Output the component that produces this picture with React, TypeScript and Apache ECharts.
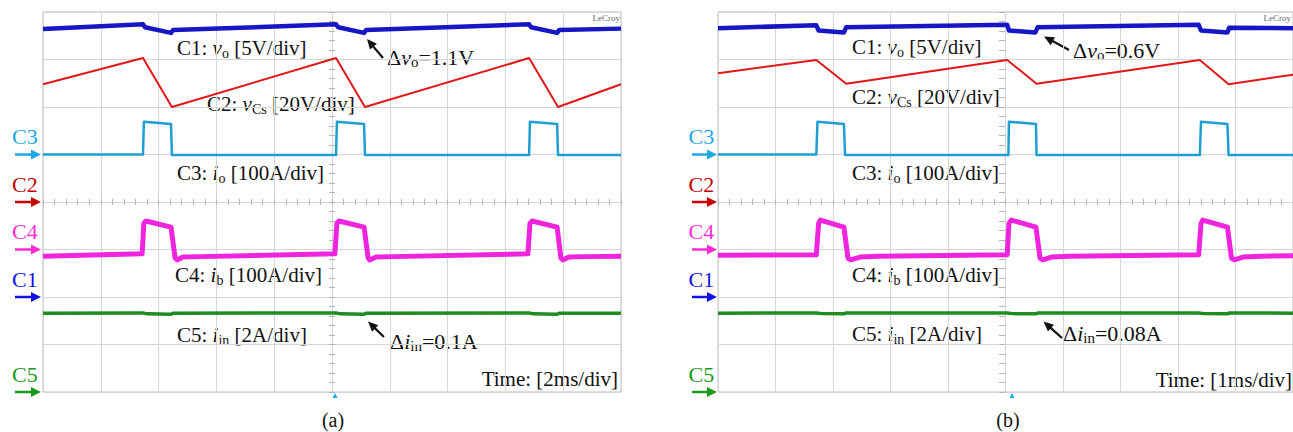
import React, { useEffect, useRef } from 'react';
import * as echarts from 'echarts';

// ---------- DATA (time in ms, level in screen divisions: 0 = bottom edge, 8 = top edge) ----------
// Panel (a): 2 ms/div
const voA = [[0, 7.64], [3.46, 7.74], [3.53, 7.68], [4.43, 7.56], [4.5, 7.62], [10.14, 7.74], [10.21, 7.68], [11.11, 7.56], [11.18, 7.62], [16.82, 7.74], [16.89, 7.68], [17.79, 7.56], [17.86, 7.62], [20, 7.65]];
const vCsA = [[0, 6.48], [3.46, 7.03], [4.46, 6.0], [10.14, 7.03], [11.14, 6.0], [16.82, 7.03], [17.82, 6.0], [20, 6.48]];
const ioA = [[0, 5.0], [3.46, 5.0], [3.49, 5.69], [4.43, 5.64], [4.46, 4.99], [10.14, 4.99], [10.17, 5.69], [11.11, 5.64], [11.14, 4.99], [16.82, 4.99], [16.85, 5.69], [17.79, 5.64], [17.82, 4.99], [20, 4.99]];
const ibA = [[0, 2.86], [3.43, 2.91], [3.49, 3.55], [3.56, 3.6], [4.43, 3.47], [4.57, 2.82], [4.64, 2.78], [4.84, 2.84], [5.43, 2.85], [10.1, 2.91], [10.17, 3.55], [10.24, 3.6], [11.11, 3.47], [11.25, 2.82], [11.31, 2.78], [11.52, 2.84], [12.11, 2.85], [16.78, 2.91], [16.85, 3.55], [16.92, 3.6], [17.79, 3.47], [17.92, 2.82], [17.99, 2.78], [18.2, 2.84], [18.79, 2.85], [20, 2.86]];
const iinA = [[0, 1.66], [3.46, 1.665], [3.6, 1.645], [4.43, 1.635], [4.5, 1.66], [10.14, 1.665], [10.28, 1.645], [11.11, 1.635], [11.18, 1.66], [16.82, 1.665], [16.96, 1.645], [17.79, 1.635], [17.86, 1.66], [20, 1.66]];

// Panel (b): 1 ms/div
const voB = [[0, 7.66], [1.71, 7.72], [1.75, 7.61], [2.19, 7.57], [2.23, 7.68], [5.03, 7.73], [5.06, 7.61], [5.52, 7.57], [5.56, 7.68], [8.36, 7.73], [8.4, 7.61], [8.86, 7.57], [8.89, 7.67], [10, 7.66]];
const vCsB = [[0, 6.71], [1.71, 6.99], [2.23, 6.49], [5.03, 6.99], [5.54, 6.49], [8.38, 6.99], [8.88, 6.48], [10, 6.68]];
const ioB = [[0, 5.0], [1.71, 5.0], [1.73, 5.69], [2.19, 5.64], [2.21, 4.99], [5.05, 4.99], [5.06, 5.69], [5.53, 5.64], [5.54, 4.99], [8.38, 4.99], [8.4, 5.69], [8.86, 5.64], [8.88, 4.99], [10, 4.99]];
const ibB = [[0, 2.88], [1.71, 2.89], [1.75, 3.55], [1.78, 3.62], [2.19, 3.47], [2.26, 2.82], [2.31, 2.78], [2.47, 2.84], [2.78, 2.86], [5.03, 2.89], [5.06, 3.55], [5.1, 3.62], [5.53, 3.47], [5.6, 2.82], [5.65, 2.78], [5.8, 2.84], [6.11, 2.86], [8.36, 2.89], [8.4, 3.55], [8.43, 3.62], [8.86, 3.47], [8.93, 2.82], [8.98, 2.78], [9.13, 2.84], [9.44, 2.86], [10, 2.87]];
const iinB = [[0, 1.66], [1.71, 1.665], [1.8, 1.65], [2.19, 1.645], [2.23, 1.665], [5.03, 1.665], [5.12, 1.65], [5.53, 1.645], [5.56, 1.665], [8.36, 1.665], [8.45, 1.65], [8.86, 1.645], [8.89, 1.665], [10, 1.66]];

const timeMaxA = 20;
const timeStepA = 2;
const timeMaxB = 10;
const timeStepB = 1;
const divisions = 8;

const traceNames = ['C1: vo', 'C2: vCs', 'C3: io', 'C4: ib', 'C5: iin'];
const channelNames = ['C3', 'C2', 'C4', 'C1', 'C5'];
const channelLevels = [5, 4, 3, 2, 0];

// ---------- STYLE ----------
const traceColors = ['#1616c4', '#e01818', '#1e9fd2', '#ee24de', '#1f8c1f'];
const traceWidths = [4.5, 2, 2.5, 5, 3.5];
const channelColors = ['#1fa8e6', '#c40000', '#ff2bd6', '#1212e8', '#1a9a1a'];
const FONT = '"Liberation Serif", "Times New Roman", serif';

const GRID_A = { left: 43, top: 12, width: 578, height: 380 };
const GRID_B = { left: 718, top: 12, width: 582, height: 380 };

function lvlY(g: any, level: number) {
  return g.top + ((divisions - level) / divisions) * g.height;
}

function arrow(x0: number, y0: number, x1: number, y1: number, color: string, lw: number, L: number, Wd: number) {
  const dx = x1 - x0, dy = y1 - y0;
  const len = Math.sqrt(dx * dx + dy * dy);
  const ux = dx / len, uy = dy / len;
  const px = -uy, py = ux;
  const bx = x1 - ux * L, by = y1 - uy * L;
  return [
    { type: 'line', silent: true, shape: { x1: x0, y1: y0, x2: x1 - ux * L * 0.7, y2: y1 - uy * L * 0.7 }, style: { stroke: color, lineWidth: lw } },
    { type: 'polygon', silent: true, shape: { points: [[x1, y1], [bx + (px * Wd) / 2, by + (py * Wd) / 2], [bx - (px * Wd) / 2, by - (py * Wd) / 2]] }, style: { fill: color } },
  ];
}

const rich = (size: number) => ({
  n: { fontSize: size, fontFamily: FONT, fill: '#111', lineHeight: size + 3, verticalAlign: 'middle' },
  i: { fontSize: size, fontFamily: FONT, fontStyle: 'italic', fill: '#111', lineHeight: size + 3, verticalAlign: 'middle' },
  s: { fontSize: Math.round(size * 0.68), fontFamily: FONT, fill: '#111', lineHeight: Math.round(size * 0.68), verticalAlign: 'bottom' },
});

function richText(x: number, y: number, text: string, size = 21, align = 'left') {
  return {
    type: 'text', silent: true, x, y,
    style: { text, fontSize: size, fontFamily: FONT, fill: '#111', align, verticalAlign: 'middle', rich: rich(size) },
  };
}

function plainText(x: number, y: number, text: string, size = 21, align = 'left', fill = '#111') {
  return {
    type: 'text', silent: true, x, y,
    style: { text, fontSize: size, fontFamily: FONT, fill, align, verticalAlign: 'middle' },
  };
}

function channelMarks(g: any, labelX: number, ax0: number, ax1: number) {
  const out: any[] = [];
  channelNames.forEach((name, k) => {
    const y = lvlY(g, channelLevels[k]);
    out.push(plainText(labelX, y - 18, name, 22, 'left', channelColors[k]));
    out.push(...arrow(ax0, y, ax1, y, channelColors[k], 2.5, 10, 10));
  });
  return out;
}

function axesFor(gridIndex: number, g: any, tMax: number, tStep: number) {
  const tickColor = '#b4b4b4';
  const x = [
    {
      type: 'value', gridIndex, position: 'bottom', min: 0, max: tMax, interval: tStep,
      axisLine: { show: false, onZero: false }, axisTick: { show: false }, axisLabel: { show: false },
      splitLine: { show: true, lineStyle: { color: '#d6d6d6', width: 1 } },
    },
    {
      type: 'value', gridIndex, position: 'top', offset: -(g.height / 2 - 3), min: 0, max: tMax, interval: tStep,
      axisLine: { show: false, onZero: false }, axisLabel: { show: false }, splitLine: { show: false },
      axisTick: { show: true, inside: true, length: 6, lineStyle: { color: tickColor } },
      minorTick: { show: true, splitNumber: 5, length: 6, lineStyle: { color: tickColor } },
    },
  ];
  const y = [
    {
      type: 'value', gridIndex, position: 'left', min: 0, max: divisions, interval: 1,
      axisLine: { show: false, onZero: false }, axisTick: { show: false }, axisLabel: { show: false },
      splitLine: { show: true, lineStyle: { color: '#d6d6d6', width: 1 } },
    },
    {
      type: 'value', gridIndex, position: 'right', offset: -(g.width / 2 - 3), min: 0, max: divisions, interval: 1,
      axisLine: { show: false, onZero: false }, axisLabel: { show: false }, splitLine: { show: false },
      axisTick: { show: true, inside: true, length: 6, lineStyle: { color: tickColor } },
      minorTick: { show: true, splitNumber: 5, length: 6, lineStyle: { color: tickColor } },
    },
  ];
  return { x, y };
}

export default function App() {
  const ref = useRef<HTMLDivElement>(null);
  useEffect(() => {
    document.body.style.margin = '0';
    document.body.style.overflow = 'hidden';
    const chart = echarts.init(ref.current!, null, { renderer: 'svg' });
    const axA = axesFor(0, GRID_A, timeMaxA, timeStepA);
    const axB = axesFor(1, GRID_B, timeMaxB, timeStepB);
    const panels = [[voA, vCsA, ioA, ibA, iinA], [voB, vCsB, ioB, ibB, iinB]];
    const series: any[] = [];
    panels.forEach((traces, p) => {
      traces.forEach((d, k) => {
        series.push({
          type: 'line', name: traceNames[k] + (p === 0 ? ' (a)' : ' (b)'),
          xAxisIndex: p * 2, yAxisIndex: p * 2, data: d, showSymbol: false, symbol: 'none',
          lineStyle: { color: traceColors[k], width: traceWidths[k], join: 'round' },
          z: k === 1 ? 3 : 2,
        });
      });
    });

    const graphics: any[] = [
      ...channelMarks(GRID_A, 12, 15, 41),
      ...channelMarks(GRID_B, 688.5, 692, 717),
      // annotations panel (a)
      richText(177, 48, '{n|C1: }{i|v}{s|o}{n| [5V/div]}'),
      richText(207, 104, '{n|C2: }{i|v}{s|Cs}{n| [20V/div]}'),
      richText(177, 173, '{n|C3: }{i|i}{s|o}{n| [100A/div]}'),
      richText(175, 275, '{n|C4: }{i|i}{s|b}{n| [100A/div]}'),
      richText(177, 335, '{n|C5: }{i|i}{s|in}{n| [2A/div]}'),
      richText(387, 57, '{n|Δ}{i|v}{s|o}{n|=1.1V}', 22),
      richText(390, 341, '{n|Δ}{i|i}{s|in}{n|=0.1A}', 22),
      plainText(618, 379, 'Time: [2ms/div]', 21, 'right'),
      plainText(333, 420, '(a)', 20, 'center'),
      ...arrow(383, 58, 367, 39, '#111', 2.2, 10, 9),
      ...arrow(384, 337, 368, 321.5, '#111', 2.2, 10, 9),
      plainText(620, 18, 'LeCroy', 9, 'right', '#666'),
      // annotations panel (b)
      richText(852, 47, '{n|C1: }{i|v}{s|o}{n| [5V/div]}'),
      richText(852, 97, '{n|C2: }{i|v}{s|Cs}{n| [20V/div]}'),
      richText(852, 173, '{n|C3: }{i|i}{s|o}{n| [100A/div]}'),
      richText(852, 275, '{n|C4: }{i|i}{s|b}{n| [100A/div]}'),
      richText(852, 334, '{n|C5: }{i|i}{s|in}{n| [2A/div]}'),
      richText(1073, 50, '{n|Δ}{i|v}{s|o}{n|=0.6V}', 22),
      richText(1063, 333, '{n|Δ}{i|i}{s|in}{n|=0.08A}', 22),
      plainText(1292, 380, 'Time: [1ms/div]', 21, 'right'),
      plainText(1008, 420, '(b)', 20, 'center'),
      ...arrow(1069, 50, 1044, 36.5, '#111', 2.2, 10, 9),
      ...arrow(1062, 338, 1043.5, 321.5, '#111', 2.2, 10, 9),
      plainText(1291, 18, 'LeCroy', 9, 'right', '#666'),
      // trigger markers
      { type: 'polygon', silent: true, shape: { points: [[335, 393], [332.5, 398], [337.5, 398]] }, style: { fill: '#1fa8e6' } },
      { type: 'polygon', silent: true, shape: { points: [[1012, 393], [1009.5, 398], [1014.5, 398]] }, style: { fill: '#1fa8e6' } },
    ];

    chart.setOption({
      animation: false,
      backgroundColor: '#ffffff',
      grid: [
        { ...GRID_A, show: true, borderColor: '#bdbdbd', borderWidth: 1, backgroundColor: 'transparent' },
        { ...GRID_B, show: true, borderColor: '#bdbdbd', borderWidth: 1, backgroundColor: 'transparent' },
      ],
      xAxis: [...axA.x, ...axB.x],
      yAxis: [...axA.y, ...axB.y],
      series,
      graphic: graphics,
    });
    return () => chart.dispose();
  }, []);
  return <div ref={ref} style={{ width: 1293, height: 432 }} />;
}
